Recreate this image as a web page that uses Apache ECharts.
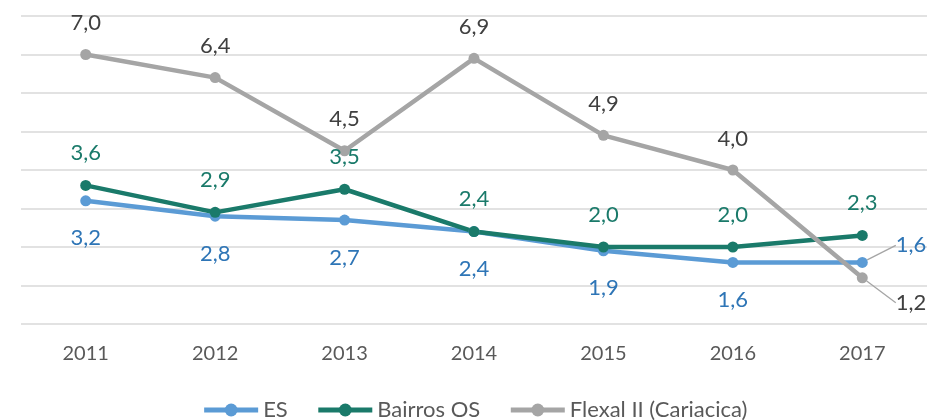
<!DOCTYPE html>
<html>
<head>
<meta charset="utf-8">
<script src="https://cdn.jsdelivr.net/npm/echarts@6/dist/echarts.min.js"></script>
<style>
  html, body { margin: 0; padding: 0; background: #fff; }
  #chart { width: 949px; height: 420px; }
</style>
</head>
<body>
<div id="chart"></div>
<script>
var years = ['2011', '2012', '2013', '2014', '2015', '2016', '2017'];
var esValues = [3.2, 2.8, 2.7, 2.4, 1.9, 1.6, 1.6];
var bairrosValues = [3.6, 2.9, 3.5, 2.4, 2.0, 2.0, 2.3];
var flexalValues = [7.0, 6.4, 4.5, 6.9, 4.9, 4.0, 1.2];

var FONT = 'Lato';

function fmt(p) {
  return p.value.toFixed(1).replace('.', ',');
}

// last point: label on the right, pulled off with a leader line
function lastLabel(arr) {
  return arr.map(function (v, i) {
    if (i !== arr.length - 1) return v;
    return {
      value: v,
      label: {position: 'right', distance: 4},
      labelLine: {show: true, lineStyle: {color: '#A5A5A5', width: 1.3}}
    };
  });
}

function lineSeries(name, data, color, labelColor, pos, dist) {
  return {
    name: name,
    type: 'line',
    data: data,
    symbol: 'circle',
    symbolSize: 11,
    lineStyle: {color: color, width: 4.5},
    itemStyle: {color: color},
    label: {
      show: true,
      position: pos,
      distance: dist,
      formatter: fmt,
      color: labelColor,
      fontFamily: FONT,
      fontSize: 22
    },
    labelLine: {show: false}
  };
}

var chart = echarts.init(document.getElementById('chart'));
chart.setOption({
  animation: false,
  grid: {left: 21, right: 22, top: 16, bottom: 96},
  legend: {
    top: 394,
    left: 'center',
    itemWidth: 54,
    itemHeight: 16,
    itemGap: 28,
    lineStyle: {width: 5},
    textStyle: {fontFamily: FONT, fontSize: 22, color: '#595959'},
    data: ['ES', 'Bairros OS', 'Flexal II (Cariacica)']
  },
  xAxis: {
    type: 'category',
    data: years,
    boundaryGap: true,
    axisLine: {show: false},
    axisTick: {show: false},
    axisLabel: {fontFamily: FONT, fontSize: 20, color: '#595959', margin: 20}
  },
  yAxis: {
    type: 'value',
    min: 0,
    max: 8,
    interval: 1,
    axisLabel: {show: false},
    axisLine: {show: false},
    axisTick: {show: false},
    splitLine: {lineStyle: {color: '#D9D9D9', width: 1.5}}
  },
  labelLayout: function (params) {
    if (params.dataIndex !== 6) return;
    if (params.seriesIndex === 0) return {dx: 24, dy: -17};
    if (params.seriesIndex === 2) return {dx: 24, dy: 25};
  },
  series: [
    lineSeries('ES', lastLabel(esValues), '#5B9BD5', '#2E75B6', 'bottom', 21),
    lineSeries('Bairros OS', bairrosValues, '#1A7A6A', '#1A7A6A', 'top', 16),
    lineSeries('Flexal II (Cariacica)', lastLabel(flexalValues), '#A5A5A5', '#404040', 'top', 15)
  ]
});
</script>
</body>
</html>
